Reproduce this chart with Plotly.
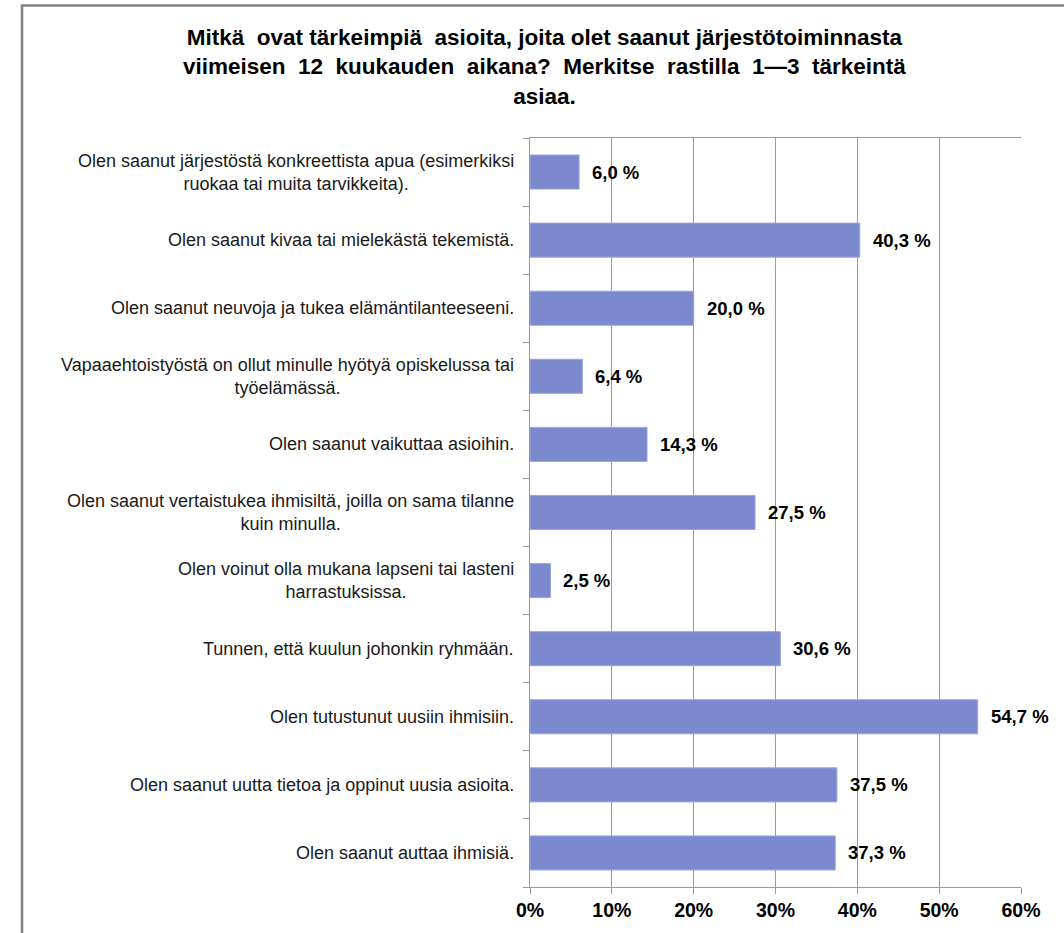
import plotly.graph_objects as go

title_lines = [
    "Mitkä  ovat tärkeimpiä  asioita, joita olet saanut järjestötoiminnasta",
    "viimeisen  12  kuukauden  aikana?  Merkitse  rastilla  1—3  tärkeintä",
    "asiaa.",
]

categories = [
    "Olen saanut järjestöstä konkreettista apua (esimerkiksi<br>ruokaa tai muita tarvikkeita).",
    "Olen saanut kivaa tai mielekästä tekemistä.",
    "Olen saanut neuvoja ja tukea elämäntilanteeseeni.",
    "Vapaaehtoistyöstä on ollut minulle hyötyä opiskelussa tai<br>työelämässä.",
    "Olen saanut vaikuttaa asioihin.",
    "Olen saanut vertaistukea ihmisiltä, joilla on sama tilanne<br>kuin minulla.",
    "Olen voinut olla mukana lapseni tai lasteni<br>harrastuksissa.",
    "Tunnen, että kuulun johonkin ryhmään.",
    "Olen tutustunut uusiin ihmisiin.",
    "Olen saanut uutta tietoa ja oppinut uusia asioita.",
    "Olen saanut auttaa ihmisiä.",
]

values = [6.0, 40.3, 20.0, 6.4, 14.3, 27.5, 2.5, 30.6, 54.7, 37.5, 37.3]

x_ticks = [0, 10, 20, 30, 40, 50, 60]

W, H = 1064, 933
L, R, T, B = 530, 43, 138, 43
pw, ph = W - L - R, H - T - B
FONT = "Liberation Sans, Arial, sans-serif"

fig = go.Figure()
fig.add_trace(go.Bar(
    y=list(range(len(categories))),
    x=values,
    orientation="h",
    marker=dict(color="#7b8ace", line=dict(color="#9aa6dc", width=1)),
    width=0.5,
    hoverinfo="skip",
))

annotations = []
for i, (c, v) in enumerate(zip(categories, values)):
    annotations.append(dict(
        x=0, y=i, xref="paper", yref="y", xanchor="right", yanchor="middle",
        xshift=-14, text=c, showarrow=False, align="center",
        font=dict(family=FONT, size=18, color="#1a1a1a"),
    ))
    annotations.append(dict(
        x=v, y=i, xref="x", yref="y", xanchor="left", yanchor="middle",
        xshift=11, text=f"<b>{v:.1f} %</b>".replace(".", ","), showarrow=False,
        font=dict(family=FONT, size=18.5, color="#000000"),
    ))

annotations.append(dict(
    x=(544 - L) / pw, y=(H - B - 67) / ph, xref="paper", yref="paper",
    xanchor="center", yanchor="middle", showarrow=False, align="center",
    text="<b>" + "<br>".join(title_lines) + "</b>",
    font=dict(family=FONT, size=22.5, color="#000000"),
))

fig.update_layout(
    width=W, height=H,
    margin=dict(l=L, r=R, t=T, b=B),
    paper_bgcolor="white", plot_bgcolor="white",
    showlegend=False,
    annotations=annotations,
    shapes=[dict(
        type="rect", xref="paper", yref="paper",
        x0=(22 - L) / pw, x1=(W + 40 - L) / pw,
        y0=(H - B - (H + 40)) / ph, y1=(H - B - 5) / ph,
        line=dict(color="#808080", width=2.5), fillcolor="rgba(0,0,0,0)", layer="below",
    )],
    xaxis=dict(
        range=[0, 60], tickvals=x_ticks, ticktext=[f"{t}%" for t in x_ticks],
        showgrid=True, gridcolor="#9a9a9a", gridwidth=1,
        showline=True, linecolor="#9a9a9a", linewidth=1, mirror=True,
        ticks="outside", ticklen=6, tickcolor="#9a9a9a",
        tickfont=dict(family=FONT, size=19.5, color="#000000", weight="bold"),
        zeroline=False, fixedrange=True,
    ),
    yaxis=dict(
        range=[len(categories) - 0.5, -0.5],
        tickvals=[i - 0.5 for i in range(len(categories) + 1)],
        showticklabels=False, showgrid=False,
        showline=True, linecolor="#9a9a9a", linewidth=1,
        ticks="outside", ticklen=6, tickcolor="#9a9a9a",
        zeroline=False, fixedrange=True,
    ),
)

fig.write_html(
    "out.html",
    config={"displayModeBar": False, "staticPlot": True},
    post_script="document.body.style.margin='0';",
)
